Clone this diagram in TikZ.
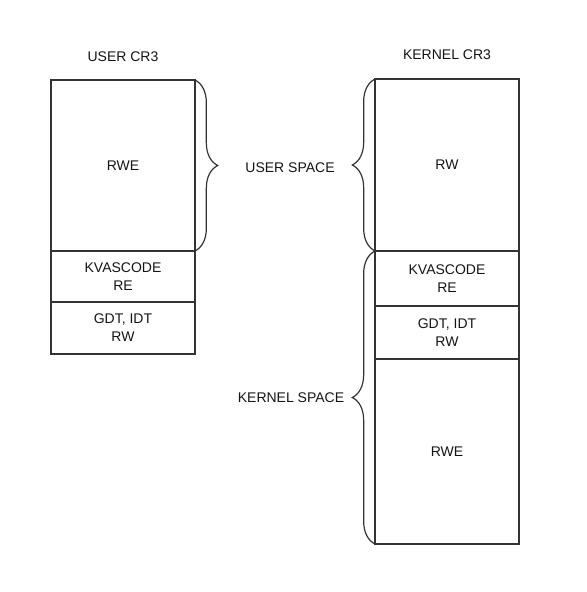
\documentclass[tikz,border=0pt]{standalone}
\usepackage{fontspec}
\setmainfont{Liberation Sans}
\usetikzlibrary{positioning, decorations.pathreplacing}
\definecolor{cLine}{RGB}{51,51,51}
\definecolor{cText}{RGB}{20,20,20}

\begin{document}
\begin{tikzpicture}[
  x=0.75pt, y=-0.75pt,
  cell/.style={draw=cLine, line width=1pt, minimum width=108pt, inner sep=0pt,
               outer sep=0pt, align=center, text=cText,
               font=\fontsize{10.5}{13.5}\selectfont},
  title/.style={inner sep=0pt, text=cText, font=\fontsize{10.5}{13.5}\selectfont},
  brace/.style={draw=cLine, line width=0.9pt, decorate,
                decoration={brace, amplitude=17pt}}
]
\useasboundingbox (0,0) rectangle (586,592);

%% ── USER CR3 ────────────────────────────────────────────────────────────────

\node[cell, minimum height=128.25pt, anchor=north west] (uRWE) at (51,80) {RWE};
\node[cell, minimum height=38.25pt, below=0pt of uRWE] (uKva) {KVASCODE\\RE};
\node[cell, minimum height=39pt, below=0pt of uKva] (uGdt) {GDT, IDT\\RW};
\node[title, above=13.5pt of uRWE] (uTitle) {USER CR3};

%% ── KERNEL CR3 ──────────────────────────────────────────────────────────────

\node[cell, minimum height=129pt, anchor=north west] (kRW) at (375,79) {RW};
\node[cell, minimum height=41.25pt, below=0pt of kRW] (kKva) {KVASCODE\\RE};
\node[cell, minimum height=39.75pt, below=0pt of kKva] (kGdt) {GDT, IDT\\RW};
\node[cell, minimum height=138.75pt, below=0pt of kGdt] (kRWE) {RWE};
\node[title, above=14.25pt of kRW] (kTitle) {KERNEL CR3};

%% ── BRACES ──────────────────────────────────────────────────────────────────

\draw[brace] (uRWE.north east) -- (uRWE.south east);
\draw[brace] (kRW.south west) -- (kRW.north west);
\draw[brace] (kRWE.south west) -- (kKva.north west);

\node[title] (uSpace) at (290,168) {USER SPACE};
\node[title] (kSpace) at (291,398) {KERNEL SPACE};

\end{tikzpicture}
\end{document}
